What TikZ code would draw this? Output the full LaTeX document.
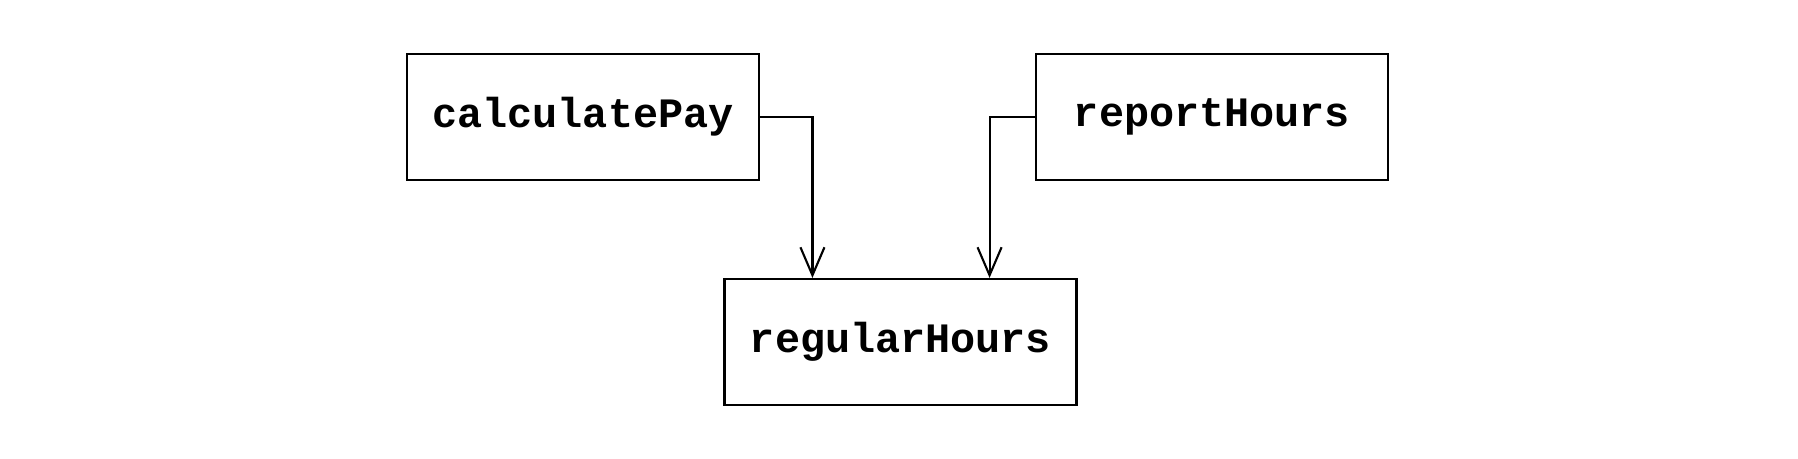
\documentclass[tikz,border=0pt]{standalone}
\usepackage{fontspec}
\setmonofont{Liberation Mono}
\usetikzlibrary{arrows.meta}

\begin{document}
\begin{tikzpicture}[font=\fontsize{11.9}{14}\selectfont\ttfamily\bfseries,
  fn/.style={draw,line width=0.6pt,minimum width=3.52cm,minimum height=1.26cm,inner sep=0pt},
  call/.style={line width=0.6pt,-{Straight Barb[length=2.8mm,width=2.4mm]}}]
  \useasboundingbox (0,0) rectangle (17.98,4.58);
  \node[fn] (cp) at (5.83,3.41) {calculatePay};
  \node[fn] (rp) at (12.12,3.41) {reportHours};
  \node[fn] (rh) at (9.005,1.16) {regularHours};
  \draw[call] (cp.east) -| ([xshift=0.89cm]rh.north west);
  \draw[call] (rp.west) -| ([xshift=-0.88cm]rh.north east);
\end{tikzpicture}
\end{document}
